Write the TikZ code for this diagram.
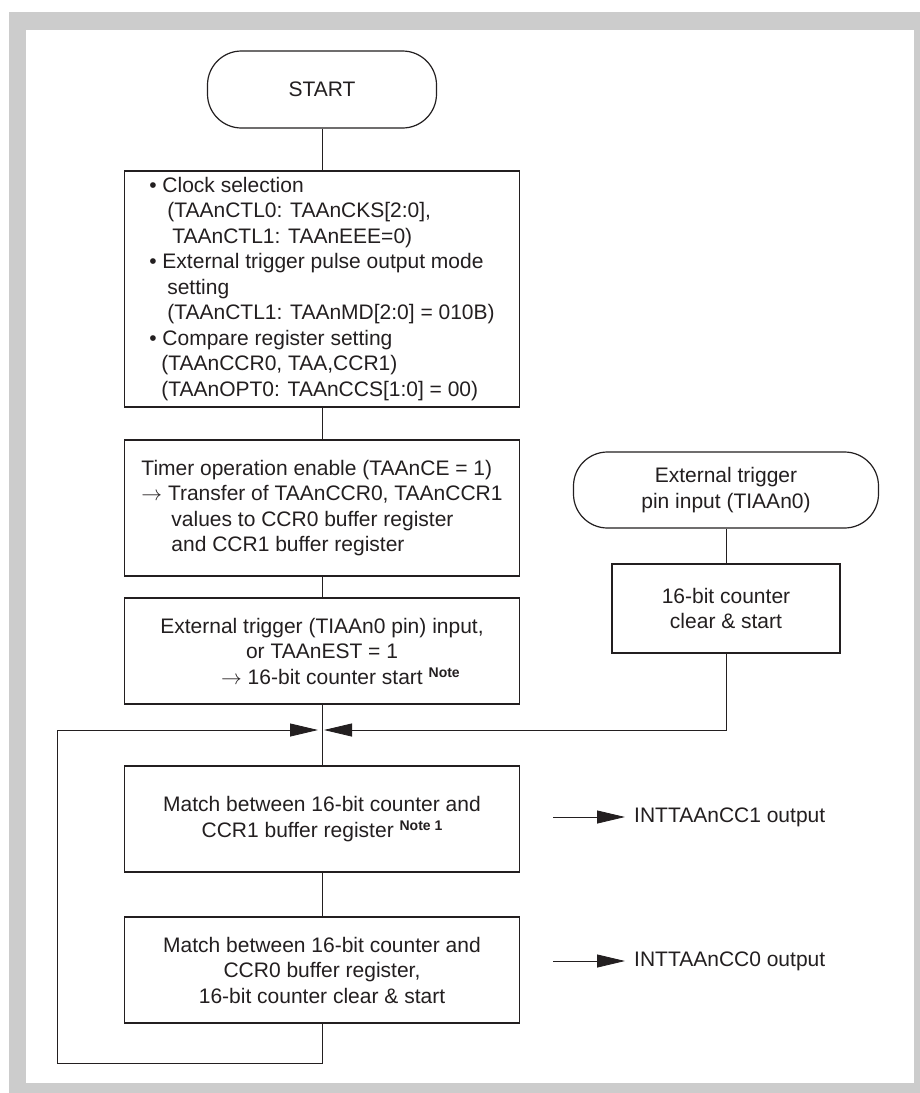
\documentclass[tikz,border=0pt]{standalone}
\usepackage{fontspec}
\setmainfont{Liberation Sans}
\usetikzlibrary{arrows.meta}
\definecolor{ink}{HTML}{231F20}
\definecolor{frame}{HTML}{CCCCCC}
\newcommand{\notemark}[1]{\raisebox{7pt}{\fontsize{14}{14}\selectfont\bfseries #1}}
\tikzset{
	box/.style = {draw=ink, line width=1.2pt, inner sep=0pt, text=ink},
	term/.style = {box, rounded corners=34pt},
	link/.style = {draw=ink, line width=0.8pt},
	arr/.style = {link, -{Triangle[length=28pt, width=13pt]}},
	outtext/.style = {anchor=west, inner sep=0pt, text=ink},
}

\begin{document}
\begin{tikzpicture}[x=1pt, y=-1pt, font=\fontsize{21}{25.5}\selectfont]
	\useasboundingbox (0,0) rectangle (920,1093);
	\fill [frame] (9,12) rectangle (920,1093);
	\fill [white] (26,30) rectangle (914,1083);

	% main column
	\node (start) [term, minimum width=229pt, minimum height=77pt] at (322,89.5) {START};
	\node (sel) [box, minimum width=395pt, minimum height=236pt, align=left] at (322,289) {%
		\textbullet\ Clock selection\\
		\hspace*{18pt}(TAAnCTL0: TAAnCKS[2:0],\\
		\hspace*{23pt}TAAnCTL1: TAAnEEE=0)\\
		\textbullet\ External trigger pulse output mode\\
		\hspace*{18pt}setting\\
		\hspace*{18pt}(TAAnCTL1: TAAnMD[2:0] = 010B)\\
		\textbullet\ Compare register setting\\
		\hspace*{12pt}(TAAnCCR0, TAA,CCR1)\\
		\hspace*{12pt}(TAAnOPT0: TAAnCCS[1:0] = 00)};
	\node (ena) [box, minimum width=395pt, minimum height=136pt, align=left] at (322,508) {%
		Timer operation enable (TAAnCE = 1)\\
		$\rightarrow$ Transfer of TAAnCCR0, TAAnCCR1\\
		\hspace*{30pt}values to CCR0 buffer register\\
		\hspace*{30pt}and CCR1 buffer register};
	\node (trg) [box, minimum width=395pt, minimum height=106pt, align=center] at (322,651) {%
		External trigger (TIAAn0 pin) input,\\
		or TAAnEST = 1\\
		$\rightarrow$ 16-bit counter start\rlap{ \notemark{Note}}};
	\node (m1) [box, minimum width=395pt, minimum height=106pt, align=center] at (322,819) {%
		Match between 16-bit counter and\\
		CCR1 buffer register \notemark{Note 1}};
	\node (m0) [box, minimum width=395pt, minimum height=106pt, align=center] at (322,970) {%
		Match between 16-bit counter and\\
		CCR0 buffer register,\\
		16-bit counter clear \& start};

	% external trigger column
	\node (ext) [term, minimum width=305pt, minimum height=76pt, align=center] at (726,490) {%
		External trigger\\ pin input (TIAAn0)};
	\node (clr) [box, minimum width=228pt, minimum height=89pt, align=center] at (726,608.5) {%
		16-bit counter\\ clear \& start};

	% outputs
	\node (out1) [outtext] at (634,817) {INTTAAnCC1 output};
	\node (out0) [outtext] at (634,961) {INTTAAnCC0 output};
	\coordinate (o1) at (553,817);
	\coordinate (o0) at (553,961);

	\coordinate (jn) at (322,730);
	\coordinate (lp) at (57,1063);

	\draw [link] (start) -- (sel);
	\draw [link] (sel) -- (ena);
	\draw [link] (ena) -- (trg);
	\draw [link] (trg) -- (m1);
	\draw [link] (m1) -- (m0);
	\draw [link] (ext) -- (clr);
	\draw [arr] (m0.south) |- (lp) |- ([xshift=-4pt]jn);
	\draw [arr] (clr.south) |- ([xshift=2pt]jn);
	\draw [arr] (o1) -- ([xshift=-9pt]out1.west);
	\draw [arr] (o0) -- ([xshift=-9pt]out0.west);
\end{tikzpicture}
\end{document}
